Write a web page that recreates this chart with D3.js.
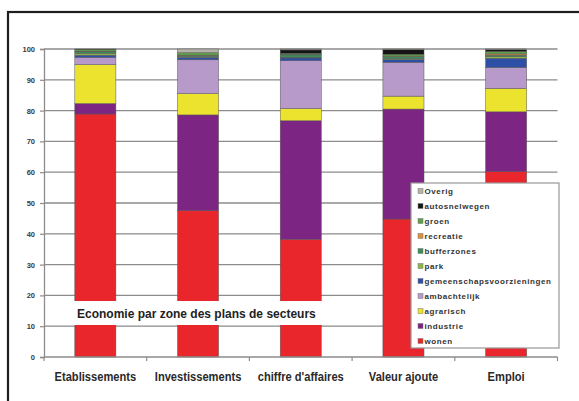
<!DOCTYPE html>
<html>
<head>
<meta charset="utf-8">
<script src="https://cdn.jsdelivr.net/npm/d3@7"></script>
<style>
  body { margin: 0; background: #fff; }
  svg { display: block; }
</style>
</head>
<body>
<svg id="chart" width="579" height="401"></svg>
<script>
// Categories along the x axis
const categories = ["Etablissements", "Investissements", "chiffre d'affaires", "Valeur ajoute", "Emploi"];

// Share (%) of each zone type, one array per zone, in stacking order (bottom first)
const wonen                     = [78.9, 47.5, 38.2, 44.8, 60.2];
const industrie                 = [ 3.4, 31.1, 38.5, 35.7, 19.4];
const agrarisch                 = [12.6,  6.9,  4.0,  4.2,  7.6];
const ambachtelijk              = [ 2.4, 11.0, 15.5, 11.0,  6.8];
const gemeenschapsvoorzieningen = [ 0.7,  0.8,  0.9,  0.9,  3.0];
const park                      = [ 0.6,  0.2,  0.2,  0.2,  0.5];
const bufferzones               = [ 0.5,  0.4,  0.8,  0.8,  0.5];
const recreatie                 = [ 0.2,  0.1,  0.1,  0.1,  0.4];
const groen                     = [ 0.6,  0.8,  0.4,  0.6,  0.8];
const autosnelwegen             = [ 0.1,  0.0,  1.1,  1.5,  0.6];
const overig                    = [ 0.0,  1.2,  0.3,  0.2,  0.2];

const seriesNames = ["wonen", "industrie", "agrarisch", "ambachtelijk", "gemeenschapsvoorzieningen",
                     "park", "bufferzones", "recreatie", "groen", "autosnelwegen", "Overig"];
const seriesValues = [wonen, industrie, agrarisch, ambachtelijk, gemeenschapsvoorzieningen,
                      park, bufferzones, recreatie, groen, autosnelwegen, overig];

// Y axis tick values
const yTicks = [0, 10, 20, 30, 40, 50, 60, 70, 80, 90, 100];

const title = "Economie par zone des plans de secteurs";

// Fill colour per zone type
const colors = ["#e8262b", "#7c2582", "#ece32f", "#b79aca", "#2d4fa6",
                "#8fb44c", "#3d8a5c", "#df8f3c", "#5e9e48", "#141414", "#b4b4aa"];

// Build the row table expected by d3.stack
const table = categories.map((c, i) => {
  const row = { category: c };
  seriesNames.forEach((s, j) => { row[s] = seriesValues[j][i]; });
  return row;
});

const svg = d3.select("#chart");
const plot = { left: 44, right: 557.5, top: 49, bottom: 357 };

const x = d3.scaleBand()
  .domain(categories)
  .range([plot.left, plot.right])
  .paddingInner(0.6)
  .paddingOuter(0.3);

const y = d3.scaleLinear().domain([0, 100]).range([plot.bottom, plot.top]);
const color = d3.scaleOrdinal().domain(seriesNames).range(colors);

// Outer frame (extends past the right and bottom edges)
svg.append("rect")
  .attr("x", 8).attr("y", 12)
  .attr("width", 600).attr("height", 420)
  .attr("fill", "#fff")
  .attr("stroke", "#1e1e1e").attr("stroke-width", 2.2);

// Horizontal gridlines
svg.append("g").selectAll("line")
  .data(yTicks.filter(d => d > 0))
  .join("line")
  .attr("x1", plot.left).attr("x2", plot.right)
  .attr("y1", d => y(d)).attr("y2", d => y(d))
  .attr("stroke", "#8d8b8b").attr("stroke-width", 1.3);

// Stacked bars
const stacked = d3.stack().keys(seriesNames)(table);
svg.append("g").selectAll("g")
  .data(stacked)
  .join("g")
  .attr("fill", d => color(d.key))
  .selectAll("rect")
  .data(d => d)
  .join("rect")
  .attr("x", d => x(d.data.category))
  .attr("width", x.bandwidth())
  .attr("y", d => y(d[1]))
  .attr("height", d => Math.max(0, y(d[0]) - y(d[1])))
  .attr("stroke", "#5a5656").attr("stroke-width", 0.5);

// Y axis
const yAxis = d3.axisLeft(y).tickValues(yTicks).tickSize(4).tickPadding(5);
const gy = svg.append("g").attr("transform", `translate(${plot.left},0)`).call(yAxis);
gy.select(".domain").attr("stroke", "#8d8b8b").attr("stroke-width", 1.3);
gy.selectAll(".tick line").attr("stroke", "#8d8b8b").attr("stroke-width", 1.2);
gy.selectAll("text")
  .attr("font-family", "Liberation Sans, Arial, sans-serif")
  .attr("font-weight", "bold").attr("font-size", 7.5).attr("fill", "#3a3a3a");

// X axis line with ticks at category boundaries
const step = x.step();
const boundaries = d3.range(categories.length + 1).map(i => plot.left + i * step);
svg.append("line")
  .attr("x1", plot.left).attr("x2", plot.right)
  .attr("y1", plot.bottom).attr("y2", plot.bottom)
  .attr("stroke", "#8d8b8b").attr("stroke-width", 1.3);
svg.append("g").selectAll("line")
  .data(boundaries)
  .join("line")
  .attr("x1", d => d).attr("x2", d => d)
  .attr("y1", plot.bottom).attr("y2", plot.bottom + 4)
  .attr("stroke", "#8d8b8b").attr("stroke-width", 1.2);

// Category labels, horizontally condensed
svg.append("g").selectAll("text")
  .data(categories)
  .join("text")
  .attr("transform", d => `translate(${x(d) + x.bandwidth() / 2},381) scale(0.89,1)`)
  .attr("text-anchor", "middle")
  .attr("font-family", "Liberation Sans, Arial, sans-serif")
  .attr("font-weight", "bold").attr("font-size", 12.5).attr("fill", "#2a2a2a")
  .text(d => d);

// Title on a white band across the bars
svg.append("rect")
  .attr("x", 72).attr("y", 301).attr("width", 250).attr("height", 24)
  .attr("fill", "#fff");
svg.append("text")
  .attr("x", 77).attr("y", 318)
  .attr("font-family", "Liberation Sans, Arial, sans-serif")
  .attr("font-weight", "bold").attr("font-size", 12).attr("fill", "#222")
  .text(title);

// Legend, top entry first
const legend = svg.append("g");
legend.append("rect")
  .attr("x", 411).attr("y", 183).attr("width", 148).attr("height", 165)
  .attr("fill", "#fff").attr("stroke", "#9a9696").attr("stroke-width", 1.2);
const legendItems = seriesNames.slice().reverse();
const li = legend.selectAll("g.item")
  .data(legendItems)
  .join("g")
  .attr("class", "item")
  .attr("transform", (d, i) => `translate(418, ${191 + i * 15})`);
li.append("rect")
  .attr("x", 0).attr("y", -2.5).attr("width", 5).attr("height", 5)
  .attr("fill", d => color(d)).attr("stroke", "#777").attr("stroke-width", 0.5);
li.append("text")
  .attr("x", 6.5).attr("y", 3)
  .attr("font-family", "Liberation Sans, Arial, sans-serif")
  .attr("font-weight", "bold").attr("font-size", 8).attr("letter-spacing", 0.6)
  .attr("fill", "#333")
  .text(d => d);
</script>
</body>
</html>
